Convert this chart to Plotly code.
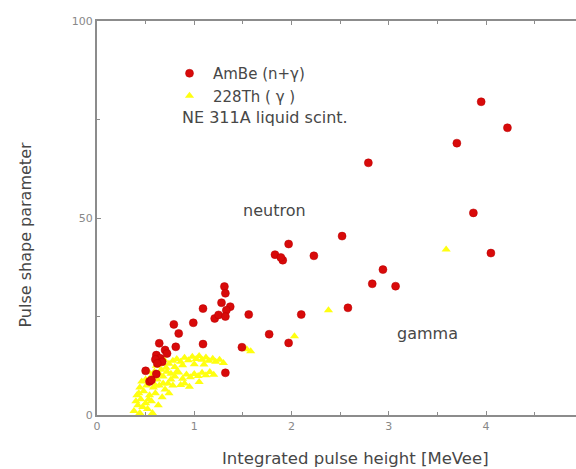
import plotly.graph_objects as go

# AmBe (n+gamma) points
ambe_x = [3.95, 4.22, 3.70, 2.79, 3.87, 4.05, 2.52, 1.97, 1.83, 1.91, 1.89, 2.23,
          2.94, 2.83, 3.07, 2.58, 2.10, 1.56, 1.77, 1.97, 1.49, 1.32, 1.09, 1.31,
          1.32, 1.28, 1.37, 1.33, 1.21, 1.25, 1.32, 1.09, 0.99, 0.79, 0.84, 0.64,
          0.81, 0.70, 0.61, 0.65, 0.60, 0.67, 0.62, 0.72, 0.50, 0.61, 0.54, 0.56]
ambe_y = [79.5, 72.9, 69.0, 64.0, 51.3, 41.1, 45.4, 43.4, 40.7, 39.3, 40.0, 40.4,
          36.9, 33.3, 32.7, 27.2, 25.5, 25.5, 20.5, 18.3, 17.2, 10.7, 18.0, 32.6,
          30.9, 28.5, 27.5, 26.6, 24.5, 25.4, 25.0, 27.0, 23.4, 23.0, 20.7, 18.2,
          17.3, 16.5, 15.2, 14.4, 14.1, 13.5, 13.1, 15.6, 11.2, 10.4, 8.5, 8.9]

# 228Th (gamma) points
th_x = [3.59, 2.38, 2.03, 1.54, 1.58,
        0.74, 0.78, 0.82, 0.86, 0.90, 0.94, 0.98, 1.02, 1.05, 1.08, 1.12, 1.15,
        1.19, 1.22, 1.26, 1.30, 0.88, 1.00, 1.10, 0.80,
        0.76, 0.80, 0.84, 0.88, 0.92, 0.96, 1.00, 1.04, 1.08, 1.12, 1.16, 1.20,
        0.90, 0.95, 0.86, 1.05,
        0.38, 0.40, 0.42, 0.44, 0.45, 0.47, 0.48, 0.50, 0.51, 0.52, 0.54, 0.55,
        0.56, 0.58, 0.59, 0.60, 0.62, 0.63, 0.64, 0.66, 0.67, 0.68, 0.70, 0.71,
        0.73, 0.46, 0.43, 0.40, 0.57, 0.53, 0.61, 0.65, 0.69, 0.74, 0.78, 0.49,
        0.41, 0.44, 0.47, 0.50, 0.53, 0.57, 0.60, 0.64, 0.68, 0.72, 0.76, 0.82]
th_y = [42.0, 26.6, 20.0, 16.7, 16.2,
        13.0, 13.8, 14.2, 13.5, 14.5, 13.9, 14.8, 14.2, 15.0, 14.0, 14.6, 13.8,
        14.3, 13.5, 14.0, 13.2, 12.6, 12.9, 12.8, 12.2,
        10.5, 9.8, 10.8, 9.2, 10.3, 9.6, 10.4, 9.9, 10.7, 10.1, 10.9, 10.2,
        8.0, 7.2, 7.6, 8.4,
        1.0, -1.0, 2.5, 0.5, 4.0, -2.0, 6.0, 3.0, 7.5, 1.5, 5.0, 9.5,
        3.5, 7.0, 11.0, 5.5, 9.0, 2.5, 7.5, 11.5, 4.5, 9.8, 6.5, 12.0,
        8.0, 8.5, 5.5, 3.5, 0.5, 11.0, 12.5, 13.0, 14.0, 5.5, 7.5, -0.5,
        5.0, 7.0, 2.0, 9.0, 4.0, 10.0, 7.5, 10.5, 8.0, 11.0, 9.0, 11.0]

x_ticks = [0, 1, 2, 3, 4, 5]
y_ticks = [0, 50, 100]

FONT = "DejaVu Sans"
AX = "#8c8c8c"
TXT = "#474747"

fig = go.Figure()
fig.add_trace(go.Scatter(
    x=th_x, y=th_y, mode="markers", name="228Th ( γ )", legendrank=2,
    marker=dict(symbol="triangle-up", size=8, color="#ffff10"), cliponaxis=False))
fig.add_trace(go.Scatter(
    x=ambe_x, y=ambe_y, mode="markers", name="AmBe (n+γ)", legendrank=1,
    marker=dict(symbol="circle", size=8, color="#d80a0a",
                line=dict(color="#b80000", width=0.5)), cliponaxis=False))

fig.update_layout(
    width=576, height=469,
    margin=dict(l=97, r=0, t=21, b=54),
    paper_bgcolor="white", plot_bgcolor="white",
    font=dict(family=FONT, color=TXT),
    showlegend=True,
    legend=dict(x=(166 - 97) / 479, y=(415 - 57) / 394, xanchor="left", yanchor="top",
                bgcolor="rgba(0,0,0,0)", font=dict(size=15, color=TXT),
                borderwidth=0, itemwidth=37, tracegroupgap=0),
    xaxis=dict(range=[0, 4.925], showline=True, linecolor=AX, linewidth=2,
               mirror="ticks", ticks="inside", ticklen=4, tickcolor=AX, tickwidth=1,
               tickvals=x_ticks, ticktext=[str(v) for v in x_ticks],
               tickfont=dict(size=11, color="#888"),
               minor=dict(dtick=0.5, ticks="inside", ticklen=3, tickcolor=AX),
               showgrid=False, zeroline=False),
    yaxis=dict(range=[0, 100], showline=True, linecolor=AX, linewidth=2,
               ticks="inside", ticklen=4, tickcolor=AX, tickwidth=1,
               tickvals=y_ticks, ticktext=[str(v) for v in y_ticks],
               tickfont=dict(size=11, color="#888"),
               minor=dict(dtick=25, ticks="inside", ticklen=3, tickcolor=AX),
               showgrid=False, zeroline=False),
    annotations=[
        dict(text="Integrated pulse height [MeVee]", xref="paper", yref="paper",
             x=(355 - 97) / 479, y=(415 - 458) / 394, showarrow=False,
             xanchor="center", yanchor="middle", font=dict(size=16.5, color=TXT)),
        dict(text="Pulse shape parameter", xref="paper", yref="paper",
             x=(25 - 97) / 479, y=(415 - 235.5) / 394, showarrow=False, textangle=-90,
             xanchor="center", yanchor="middle", font=dict(size=16, color=TXT)),
        dict(text="NE 311A liquid scint.", xref="x", yref="y", x=0.853, y=75.6,
             showarrow=False, xanchor="left", yanchor="middle",
             font=dict(size=16, color=TXT)),
        dict(text="neutron", xref="x", yref="y", x=1.82, y=52.0, showarrow=False,
             font=dict(size=16, color=TXT)),
        dict(text="gamma", xref="x", yref="y", x=3.40, y=20.8, showarrow=False,
             font=dict(size=16, color=TXT)),
    ],
)

fig.write_html("out.html", config={"displayModeBar": False},
               post_script="document.body.style.margin='0';document.body.style.overflow='hidden';")
